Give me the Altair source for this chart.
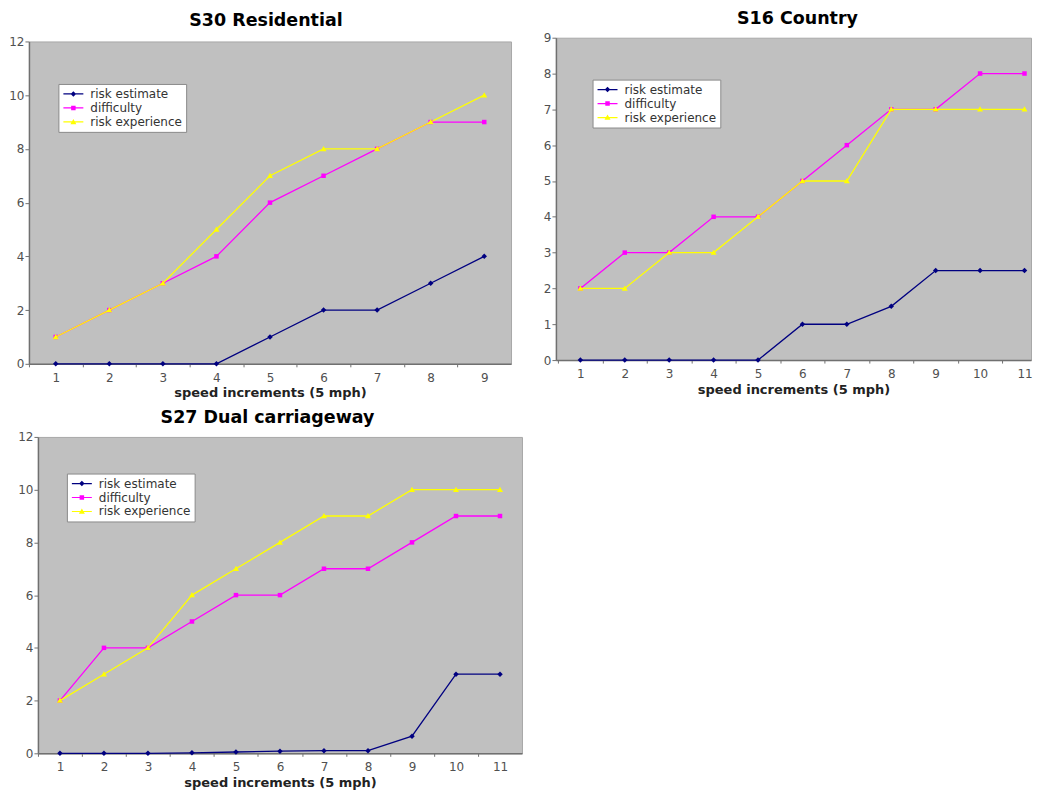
import altair as alt
import pandas as pd

SERIES = ["risk estimate", "difficulty", "risk experience"]
COLORS = ["#000080", "#ff00ff", "#ffff00"]

S30_X = [1, 2, 3, 4, 5, 6, 7, 8, 9]
S30_RISK_ESTIMATE = [0, 0, 0, 0, 1, 2, 2, 3, 4]
S30_DIFFICULTY = [1, 2, 3, 4, 6, 7, 8, 9, 9]
S30_RISK_EXPERIENCE = [1, 2, 3, 5, 7, 8, 8, 9, 10]

S16_X = [1, 2, 3, 4, 5, 6, 7, 8, 9, 10, 11]
S16_RISK_ESTIMATE = [0, 0, 0, 0, 0, 1, 1, 1.5, 2.5, 2.5, 2.5]
S16_DIFFICULTY = [2, 3, 3, 4, 4, 5, 6, 7, 7, 8, 8]
S16_RISK_EXPERIENCE = [2, 2, 3, 3, 4, 5, 5, 7, 7, 7, 7]

S27_X = [1, 2, 3, 4, 5, 6, 7, 8, 9, 10, 11]
S27_RISK_ESTIMATE = [0, 0, 0, 0.02, 0.05, 0.08, 0.1, 0.1, 0.65, 3, 3]
S27_DIFFICULTY = [2, 4, 4, 5, 6, 6, 7, 7, 8, 9, 9]
S27_RISK_EXPERIENCE = [2, 3, 4, 6, 7, 8, 9, 9, 10, 10, 10]

X_TITLE = "speed increments (5 mph)"
FONT = "DejaVu Sans"

# marker glyphs (unit box scaled by symbol size)
DIAMOND = "M0,-0.55L0.55,0L0,0.55L-0.55,0Z"
SQUARE = "M-0.45,-0.45H0.45V0.45H-0.45Z"
TRIANGLE = "M0,-0.6L0.6,0.45H-0.6Z"
MARKERS = [DIAMOND, SQUARE, TRIANGLE]
LINE_SEG = "M-2,-0.12H2V0.12H-2Z"
LEGEND_SHAPES = [LINE_SEG + m for m in MARKERS]


def panel(title, xs, series_vals, width, height, xdom, ymax, ystep,
          legend_xy, title_dx, title_offset, pad_left=None, pad_bottom=None):
    n = len(xs)
    rows = []
    for s, vals in zip(SERIES, series_vals):
        for x, v in zip(xs, vals):
            rows.append({"x": x, "value": v, "series": s})
    df = pd.DataFrame(rows)
    base = alt.Chart(df)

    unit = width / (xdom[1] - xdom[0])
    tick_vals = list(xs)
    if xdom[1] >= xs[-1] + 0.5 - 1e-9:
        tick_vals = tick_vals + [xs[-1] + 1]

    xenc = alt.X(
        "x:Q",
        scale=alt.Scale(domain=list(xdom), nice=False, zero=False),
        axis=alt.Axis(
            values=tick_vals,
            labelExpr=f"datum.value > {xs[-1]} ? '' : datum.label",
            tickOffset=-unit / 2,
            labelOffset=unit / 2,
            labelFlush=False,
            labelOverlap=False,
            title=X_TITLE,
            grid=False,
        ),
    )
    yenc = alt.Y(
        "value:Q",
        scale=alt.Scale(domain=[0, ymax], nice=False, zero=True),
        axis=alt.Axis(values=list(range(0, ymax + 1, ystep)), title=None, grid=False),
    )

    leg = alt.Legend(
        orient="none",
        legendX=legend_xy[0],
        legendY=legend_xy[1],
        title=None,
        fillColor="white",
        strokeColor="#8a8a8a",
        padding=4,
        labelFont=FONT,
        labelFontSize=12,
        labelColor="#333333",
        symbolSize=100,
        symbolOffset=5,
        labelOffset=11,
        rowPadding=2,
        symbolStrokeWidth=0,
    )

    layers = []
    # legend layer (no marks drawn, drives the legend from the scales)
    layers.append(
        base.transform_filter("false")
        .mark_point(filled=True, size=100, opacity=1)
        .encode(
            x=xenc,
            y=yenc,
            color=alt.Color("series:N", scale=alt.Scale(domain=SERIES, range=COLORS), legend=leg),
            shape=alt.Shape("series:N", scale=alt.Scale(domain=SERIES, range=LEGEND_SHAPES), legend=leg),
        )
    )
    for s, c, m in zip(SERIES, COLORS, MARKERS):
        sub = base.transform_filter(alt.datum.series == s)
        layers.append(sub.mark_line(color=c, strokeWidth=1.3).encode(x=xenc, y=yenc))
        layers.append(
            sub.mark_point(shape=m, size=100, filled=True, color=c, opacity=1).encode(x=xenc, y=yenc)
        )

    pad_df = pd.DataFrame({"k": [0]})
    if pad_left is not None:
        layers.append(
            alt.Chart(pad_df)
            .mark_rule(color="white", strokeWidth=1)
            .encode(x=alt.value(-pad_left), x2=alt.value(-pad_left + 1), y=alt.value(10))
        )
    if pad_bottom is not None:
        layers.append(
            alt.Chart(pad_df)
            .mark_rule(color="white", strokeWidth=1)
            .encode(x=alt.value(100), x2=alt.value(101), y=alt.value(height + pad_bottom))
        )

    return alt.layer(*layers).properties(
        width=width,
        height=height,
        title=alt.TitleParams(
            text=title,
            font=FONT,
            fontSize=17.5,
            fontWeight="bold",
            color="#000000",
            offset=title_offset,
            dx=title_dx,
            frame="group",
            anchor="middle",
        ),
    )


c1 = panel("S30 Residential", S30_X,
           [S30_RISK_ESTIMATE, S30_DIFFICULTY, S30_RISK_EXPERIENCE],
           483, 323, (0.5, 9.5), 12, 2, (29.5, 42.6), -4, 5.5)
c2 = panel("S16 Country", S16_X,
           [S16_RISK_ESTIMATE, S16_DIFFICULTY, S16_RISK_EXPERIENCE],
           476, 323, (0.45, 0.45 + 476 / 44.5), 9, 1, (36.7, 42), 4, 4.4,
           pad_left=20.5, pad_bottom=43)
c3 = panel("S27 Dual carriageway", S27_X,
           [S27_RISK_ESTIMATE, S27_DIFFICULTY, S27_RISK_EXPERIENCE],
           485, 317, (0.5, 11.5), 12, 2, (29, 36.7), -12.5, 4.3)

spacer = (
    alt.Chart(pd.DataFrame({"k": [0]}))
    .mark_point(opacity=0, size=1)
    .encode(x=alt.value(0), y=alt.value(0))
    .properties(width=7, height=1, view=alt.ViewBackground(fill="transparent", stroke="transparent"))
)

top = alt.hconcat(c1, c2, spacing=22, center=True).resolve_scale(color="independent", shape="independent")
bottom = alt.hconcat(spacer, c3, spacing=-20).resolve_scale(color="independent", shape="independent")
chart = (
    alt.vconcat(top, bottom, spacing=4)
    .resolve_scale(color="independent", shape="independent")
    .properties(padding=0, background="white")
    .configure_view(fill="#c0c0c0", stroke="#a8a8a8", strokeWidth=1)
    .configure_axis(
        domainColor="#707070",
        domainWidth=1.5,
        tickColor="#707070",
        labelFont=FONT,
        labelFontSize=12,
        labelColor="#505050",
        titleFont=FONT,
        titleFontSize=13,
        titleFontWeight="bold",
        titleColor="#222222",
    )
    .configure_axisX(tickSize=3, labelPadding=5.5, titlePadding=3.5)
    .configure_axisY(tickSize=4, labelPadding=1)
)

chart.save("out.html", embed_options={"renderer": "svg", "actions": False})
